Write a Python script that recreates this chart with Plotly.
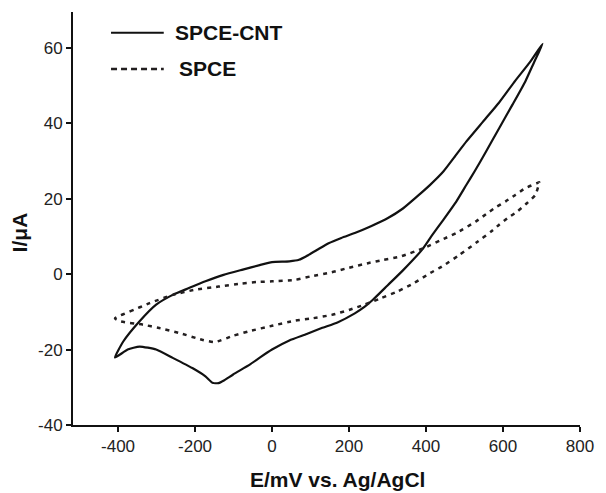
import plotly.graph_objects as go

# SPCE-CNT cyclic voltammogram: forward scan then reverse scan (closed loop)
cnt_e = [-408, -386, -344, -301, -258, -216, -173, -126, -76, -32, 0, 45, 70, 95, 120, 147, 180,
         215, 257, 300, 340, 377, 410, 445, 475, 505, 547, 590, 632, 670, 703,
         680, 658, 625, 590, 556, 526, 505, 479, 445, 415, 390, 340, 300, 262, 240, 215, 170, 129, 90,
         45, 0, -30, -58, -101, -125, -139, -155, -173, -207, -258, -301, -344, -375, -408]
cnt_i = [-22.1, -17.8, -12.5, -8.1, -5.5, -3.7, -1.9, -0.2, 1.2, 2.4, 3.2, 3.4, 3.8, 5.1, 6.6, 8.2, 9.6,
         10.9, 12.7, 14.8, 17.4, 20.6, 23.6, 27.2, 31.2, 35.2, 40.3, 45.5, 51.3, 56.2, 61.1,
         56.0, 51.1, 45.0, 38.7, 32.5, 27.2, 23.7, 19.3, 14.4, 10.2, 6.5, 1.0, -3.0, -6.8, -8.7, -10.4,
         -12.8, -14.3, -15.9, -17.6, -20.0, -22.0, -24.0, -26.6, -28.2, -28.9, -28.8, -27.1, -24.9,
         -22.2, -20.0, -19.2, -20.0, -22.1]

# bare SPCE
spce_e = [-408, -369, -318, -258, -199, -139, -80, -40, 0, 61, 100, 155, 200, 249, 290, 334, 394,
          449, 479, 530, 556, 581, 607, 632, 658, 688, 694,
          684, 662, 637, 611, 590, 569, 530, 487, 441, 411, 370, 326, 280, 240, 200, 155, 100, 61,
          0, -58, -100, -148, -182, -241, -293, -335, -395, -408]
spce_i = [-11.7, -9.9, -7.7, -5.5, -4.1, -3.3, -2.5, -2.1, -1.9, -1.5, -0.6, 0.5, 1.7, 2.9, 3.8, 4.7,
          6.9, 9.5, 10.9, 14.0, 15.9, 17.7, 19.3, 21.0, 22.8, 24.1, 24.4,
          21.0, 18.8, 16.6, 14.8, 13.1, 11.3, 8.3, 5.1, 2.0, 0.3, -2.3, -4.6, -6.5, -8.1, -9.5, -10.8,
          -11.8, -12.3, -13.7, -15.1, -16.3, -18.0, -17.4, -15.6, -14.3, -13.4, -12.5, -11.7]

x_ticks = [-400, -200, 0, 200, 400, 600, 800]
y_ticks = [-40, -20, 0, 20, 40, 60]

font = "Liberation Sans, Arial, sans-serif"

fig = go.Figure()

fig.add_trace(go.Scatter(
    x=cnt_e, y=cnt_i, mode="lines", name="SPCE-CNT",
    line=dict(color="#111111", width=2.2, shape="spline", smoothing=0.5)
))

fig.add_trace(go.Scatter(
    x=spce_e, y=spce_i, mode="lines", name="SPCE",
    line=dict(color="#231f20", width=2.5, dash="4px,5px", shape="spline", smoothing=0.5)
))

# hand-drawn legend like the original
fig.add_shape(type="line", xref="paper", yref="paper", x0=0.075, x1=0.179, y0=0.950, y1=0.950,
              line=dict(color="#111111", width=2))
fig.add_shape(type="line", xref="paper", yref="paper", x0=0.075, x1=0.179, y0=0.862, y1=0.862,
              line=dict(color="#231f20", width=2.5, dash="6px,4px"))
fig.add_annotation(text="<b>SPCE-CNT</b>", xref="paper", yref="paper", x=0.198, y=0.950,
                   xanchor="left", yanchor="middle", showarrow=False,
                   font=dict(family=font, size=21, color="#111111"))
fig.add_annotation(text="<b>SPCE</b>", xref="paper", yref="paper", x=0.206, y=0.862,
                   xanchor="left", yanchor="middle", showarrow=False,
                   font=dict(family=font, size=21, color="#111111"))

# axis titles
fig.add_annotation(text="<b>E/mV vs. Ag/AgCl</b>", xref="paper", yref="paper", x=0.522, y=-0.131,
                   xanchor="center", yanchor="middle", showarrow=False,
                   font=dict(family=font, size=21, color="#111111"))
fig.add_annotation(text="<b>I/μA</b>", xref="paper", yref="paper", x=-0.106, y=0.467,
                   xanchor="center", yanchor="middle", showarrow=False, textangle=-90,
                   font=dict(family=font, size=21, color="#111111"))

axis_style = dict(
    showline=True, linewidth=2, linecolor="#111111", mirror=False,
    ticks="outside", ticklen=5, tickwidth=1.5, tickcolor="#111111",
    tickfont=dict(family=font, size=17, color="#222222"),
    showgrid=False, zeroline=False
)

fig.update_xaxes(range=[-517, 800], tickvals=x_ticks, ticktext=[str(v) for v in x_ticks], **axis_style)
fig.update_yaxes(range=[-40, 69.5], tickvals=y_ticks, ticktext=[str(v) for v in y_ticks], **axis_style)

fig.update_layout(
    width=606, height=493,
    margin=dict(l=73, r=18, t=12, b=68),
    plot_bgcolor="white", paper_bgcolor="white",
    showlegend=False
)

# the page body has an 8px default margin; drop it so the figure sits at the corner
fig.write_html("out.html", config={"displayModeBar": False},
               post_script="document.body.style.margin='0';")
